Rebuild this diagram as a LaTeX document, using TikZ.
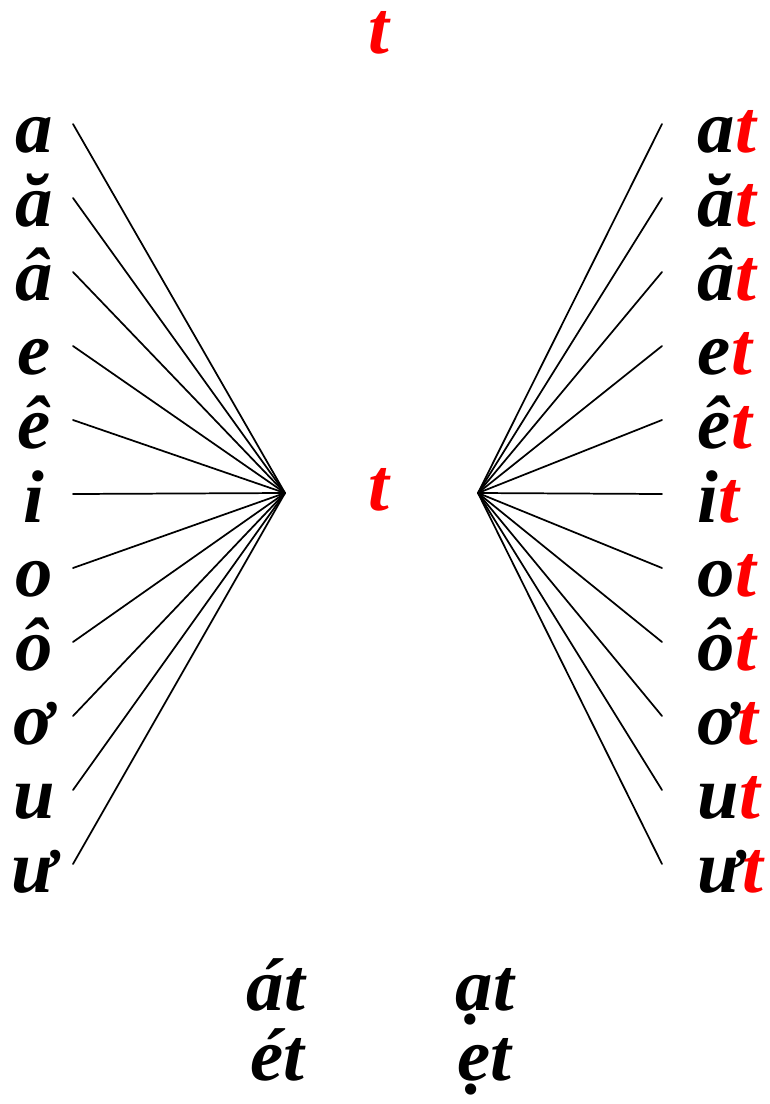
\documentclass[tikz,border=0pt]{standalone}
\usepackage{fontspec}
\newfontfamily\vfont{Liberation Serif Bold Italic}
\begin{document}
\begin{tikzpicture}[x=0.75pt, y=-0.75pt, line width=1.3pt, line cap=round,
  vowel/.style={font=\fontsize{56}{56}\vfont, inner sep=0pt, anchor=base, text height=0.6em},
  final/.style={vowel, text=red}]
  \useasboundingbox (0,0) rectangle (769,1104);
  % --- the final consonant ---
  \node[final] (top) at (379,53) {t};
  \node[final] (mid) at (379,510) {t};
  \coordinate (hubL) at (285,493);
  \coordinate (hubR) at (478,493);

  % === vowels on the left, rhymes on the right ===
  \foreach \v [count=\i] in {a,ă,â,e,ê,i,o,ô,ơ,u,ư} {
    \node[vowel] (L\i) at (34,78+74*\i) {\v};
    \node[vowel, anchor=base west] (R\i) at (697,78+74*\i) {\v\textcolor{red}{t}};
    \coordinate (LE\i) at (73,50+74*\i);
    \coordinate (RE\i) at (662,50+74*\i);
    \draw (LE\i) -- (hubL);
    \draw (hubR) -- (RE\i);
  }

  % --- examples with tones ---
  \node[vowel] (ex1) at (276,1010) {át};
  \node[vowel] (ex2) at (485,1010) {ạt};
  \node[vowel] (ex3) at (277,1080) {ét};
  \node[vowel] (ex4) at (484,1080) {ẹt};
\end{tikzpicture}
\end{document}
